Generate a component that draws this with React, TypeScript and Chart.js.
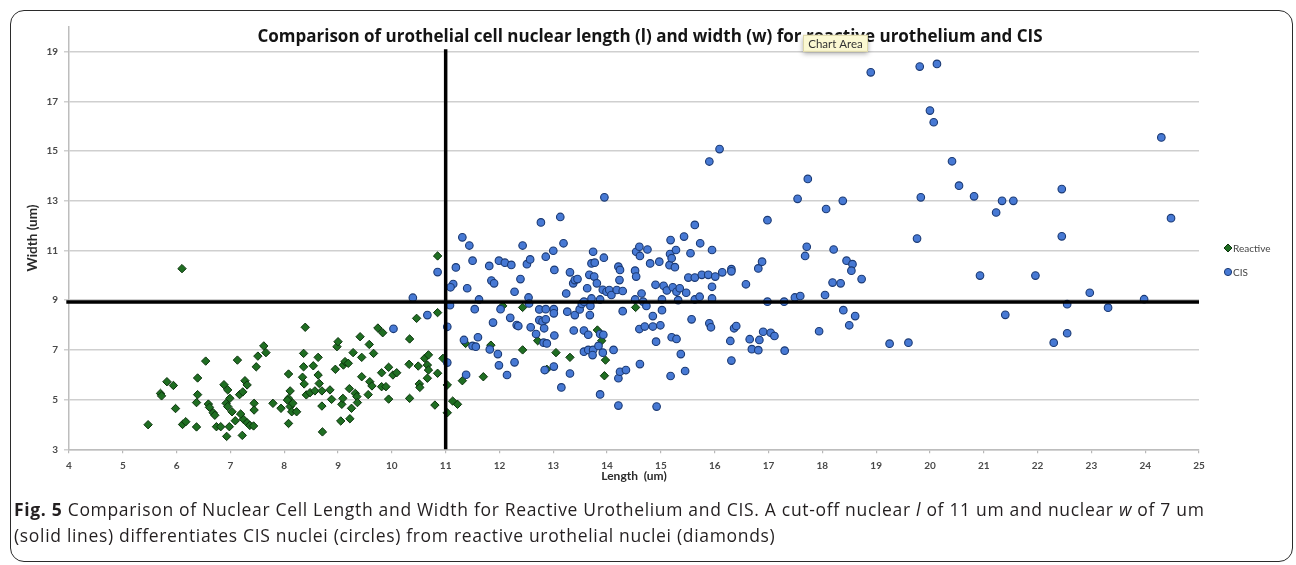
import React, { useEffect, useRef } from "react";
import { Chart, registerables } from "chart.js";

Chart.register(...registerables);

const chartTitle =
  "Comparison of urothelial cell nuclear length (l) and width (w) for reactive urothelium and CIS";
const xAxisTitle = "Length  (um)";
const yAxisTitle = "Width (um)";
const seriesNames = ["Reactive", "CIS"];
const xTickValues = [4, 5, 6, 7, 8, 9, 10, 11, 12, 13, 14, 15, 16, 17, 18, 19, 20, 21, 22, 23, 24, 25];
const yTickValues = [3, 5, 7, 9, 11, 13, 15, 17, 19];
const cutoffLength = 11;
const cutoffWidth = 8.93;

const reactiveX = [
  6.1, 5.47, 5.7, 5.72, 5.82, 5.94, 5.98, 6.11, 6.17, 6.37, 6.37, 6.39, 6.39, 6.54, 6.59, 6.61, 6.68, 6.71, 6.74, 6.82,
  6.88, 6.95, 6.92, 6.95, 6.98, 6.93, 6.99, 7.03, 7.09, 7.13, 7.17, 7.23, 7.24, 7.19, 7.27, 7.31, 7.22, 7.31, 7.36, 7.43,
  7.44, 7.44, 7.48, 7.51, 7.62, 7.66, 7.79, 7.94, 8.08, 8.08, 8.11, 8.06, 8.11, 8.14, 8.08, 8.16, 8.23, 8.36, 8.36, 8.39,
  8.34, 8.37, 8.41, 8.48, 8.54, 8.57, 8.63, 8.63, 8.65, 8.7, 8.71, 8.7, 8.85, 8.88, 8.95, 8.98, 9.0, 9.05, 9.07, 9.09,
  9.1, 9.13, 9.19, 9.21, 9.22, 9.25, 9.28, 9.32, 9.35, 9.36, 9.41, 9.44, 9.44, 9.56, 9.58, 9.59, 9.63, 9.66, 9.74, 9.83,
  9.81, 9.81, 9.89, 9.94, 9.94, 10.02, 10.09, 10.33, 10.32, 10.33, 10.46, 10.49, 10.51, 10.52, 10.61, 10.68, 10.66, 10.68, 10.66, 10.8,
  10.85, 10.85, 10.85, 10.95, 11.03, 11.03, 11.13, 11.22, 11.31, 11.37, 11.7, 11.84, 12.06, 12.43, 12.43, 12.71, 12.88, 13.05, 13.31, 13.82,
  13.9, 13.97, 13.95, 14.53,
];
const reactiveY = [
  10.27, 3.99, 5.25, 5.15, 5.72, 5.57, 4.64, 4.0, 4.11, 3.9, 4.88, 5.2, 5.87, 6.55, 4.82, 4.69, 4.47, 4.37, 3.91, 3.91,
  5.6, 5.39, 4.85, 4.72, 3.91, 3.52, 5.05, 4.51, 4.15, 6.59, 5.2, 5.31, 4.21, 4.42, 5.76, 5.59, 3.56, 4.07, 3.96, 3.94,
  4.85, 4.58, 6.32, 6.75, 7.16, 6.89, 4.85, 4.65, 6.03, 5.05, 5.35, 4.98, 4.72, 4.51, 4.04, 4.85, 4.51, 6.86, 6.32, 7.91,
  5.9, 5.63, 5.19, 5.28, 6.36, 5.35, 6.7, 5.99, 5.65, 4.74, 3.7, 5.35, 5.39, 5.01, 6.22, 7.13, 7.33, 4.14, 4.81, 5.05,
  6.39, 6.53, 6.46, 5.44, 4.23, 4.65, 6.89, 5.25, 5.12, 4.88, 7.53, 6.7, 5.92, 5.2, 7.22, 5.72, 5.55, 6.86, 7.88, 7.69,
  6.08, 5.52, 5.52, 6.3, 5.02, 5.99, 6.08, 7.44, 6.42, 5.05, 8.27, 6.35, 5.63, 5.49, 6.66, 6.8, 6.39, 6.19, 5.86, 4.78,
  10.78, 8.5, 6.06, 6.66, 5.59, 4.47, 4.94, 4.81, 5.76, 7.26, 5.92, 7.19, 8.77, 8.71, 7.0, 7.37, 6.22, 6.89, 6.7, 7.8,
  7.37, 6.59, 5.96, 8.71,
];

const cisX = [
  10.39, 10.66, 10.03, 10.85, 11.31, 11.44, 11.5, 11.19, 11.14, 11.09, 11.4, 11.62, 11.08, 11.54, 11.03, 11.03, 11.34, 11.5, 11.56, 11.6,
  11.38, 11.81, 11.85, 11.9, 11.88, 11.82, 11.97, 11.99, 12.1, 12.22, 11.99, 12.14, 12.02, 12.2, 12.28, 12.32, 12.35, 12.39, 12.43, 12.51,
  12.57, 12.54, 12.55, 12.28, 12.58, 12.68, 12.74, 12.74, 12.8, 12.86, 12.83, 12.86, 12.86, 12.82, 12.88, 12.84, 13.0, 13.02, 13.01, 13.01,
  13.02, 13.01, 13.15, 13.19, 13.24, 13.26, 13.31, 13.31, 13.37, 13.4, 13.45, 13.38, 13.4, 13.49, 13.53, 13.57, 13.57, 13.57, 13.63, 13.65,
  13.65, 13.67, 13.68, 13.69, 13.71, 13.71, 13.74, 13.76, 13.74, 13.73, 13.77, 13.81, 13.84, 13.87, 13.87, 13.87, 13.92, 13.92, 13.93, 13.94,
  13.99, 14.04, 14.08, 14.12, 14.18, 14.21, 14.24, 14.23, 14.29, 14.29, 14.21, 14.24, 14.35, 14.21, 14.52, 14.54, 14.54, 14.6, 14.61, 14.75,
  14.64, 14.52, 14.67, 14.73, 14.8, 14.6, 14.7, 14.85, 14.85, 14.61, 14.91, 14.92, 14.9, 14.97, 14.99, 15.02, 15.02, 15.05, 15.11, 15.16,
  15.17, 15.18, 15.2, 15.26, 15.28, 15.22, 15.29, 15.32, 15.35, 15.47, 15.2, 15.29, 15.37, 15.18, 15.45, 15.43, 15.55, 15.51, 15.63, 15.63,
  15.72, 15.57, 15.73, 15.76, 15.88, 15.95, 15.95, 15.95, 16.01, 15.9, 15.93, 16.14, 16.31, 16.31, 16.29, 16.31, 16.36, 16.4, 16.58, 16.65,
  16.69, 16.81, 16.83, 16.81, 16.88, 16.9, 16.98, 17.04, 17.11, 17.29, 17.3, 17.49, 17.59, 17.68, 17.71, 17.94, 18.05, 18.19, 18.21, 18.34,
  18.39, 18.45, 18.56, 18.54, 18.5, 18.61, 18.73, 12.77, 13.13, 13.95, 15.9, 16.09, 15.63, 16.98, 17.54, 17.73, 18.07, 18.38, 18.9, 19.81,
  20.13, 20.0, 20.07, 20.41, 20.54, 19.83, 20.82, 21.34, 21.55, 21.23, 22.45, 24.3, 24.48, 19.76, 22.45, 20.93, 21.96, 22.97, 22.55, 23.31,
  23.98, 21.4, 19.25, 19.6, 22.3, 22.55,
];
const cisY = [
  9.1, 8.4, 7.85, 10.13, 11.53, 11.2, 10.59, 10.32, 9.65, 9.52, 9.48, 9.03, 8.8, 8.64, 7.93, 6.49, 7.4, 7.16, 7.13, 7.51,
  6.0, 10.38, 9.79, 9.68, 8.1, 7.02, 6.83, 10.59, 10.51, 10.42, 6.38, 5.99, 8.64, 8.29, 9.34, 8.0, 7.96, 9.85, 11.2, 10.45,
  10.64, 9.11, 8.87, 6.5, 7.91, 7.64, 8.2, 8.63, 8.14, 8.23, 7.87, 8.64, 10.75, 7.29, 7.26, 6.19, 10.99, 10.22, 8.64, 8.47,
  7.58, 6.33, 5.49, 11.29, 9.27, 8.54, 6.05, 10.12, 9.68, 9.81, 9.85, 7.78, 8.4, 8.63, 8.85, 8.94, 7.78, 6.93, 9.48, 7.61,
  7.0, 10.02, 8.4, 8.77, 9.07, 10.48, 10.95, 9.95, 7.0, 6.79, 10.51, 9.68, 7.16, 9.03, 7.64, 5.21, 9.42, 6.89, 7.61, 10.71,
  9.34, 9.41, 9.21, 7.0, 9.41, 10.35, 10.22, 9.81, 9.37, 8.56, 5.86, 6.12, 6.19, 4.76, 10.19, 9.95, 10.95, 11.15, 10.78, 11.04,
  9.27, 9.03, 8.94, 8.77, 10.48, 7.84, 7.94, 8.36, 7.94, 6.43, 7.33, 4.72, 9.62, 10.55, 7.99, 8.6, 9.03, 9.58, 9.39, 10.41,
  10.86, 11.42, 10.69, 10.33, 11.02, 9.52, 9.34, 9.0, 9.48, 9.3, 7.51, 7.44, 6.83, 5.95, 6.15, 11.56, 10.89, 9.91, 9.91, 9.03,
  9.14, 8.23, 11.29, 10.02, 10.02, 11.02, 9.54, 9.07, 9.95, 8.07, 7.91, 10.12, 10.25, 10.16, 7.36, 6.57, 7.87, 7.96, 9.64, 7.43,
  7.03, 6.99, 7.4, 10.28, 10.55, 7.73, 8.94, 7.69, 7.56, 8.94, 6.97, 9.11, 9.17, 10.78, 11.15, 7.75, 9.21, 9.71, 11.04, 9.68,
  8.6, 10.59, 10.45, 10.19, 7.99, 8.36, 9.85, 12.13, 12.35, 13.14, 14.58, 15.08, 12.03, 12.22, 13.08, 13.88, 12.67, 13.0, 18.17, 18.4,
  18.51, 16.63, 16.16, 14.59, 13.61, 13.14, 13.18, 13.0, 13.0, 12.53, 13.47, 15.55, 12.3, 11.48, 11.57, 9.99, 9.99, 9.3, 8.84, 8.7,
  9.04, 8.41, 7.25, 7.29, 7.29, 7.67,
];

const greenFill = "#1f6e22";
const greenBorder = "#0b330c";
const blueFill = "#4779d4";
const blueBorder = "#1b3a74";

const textPlugin = {
  id: "textPlugin",
  afterDraw(chart: any) {
    const { ctx, chartArea } = chart;
    const ca = chartArea;
    ctx.save();
    // title
    ctx.fillStyle = "#141414";
    ctx.font = "bold 17px 'Open Sans'";
    ctx.textAlign = "center";
    ctx.textBaseline = "middle";
    ctx.fillText(chartTitle, 650, ca.top + 10);
    // tooltip box "Chart Area"
    const tx = 803, ty = ca.top + 8, tw = 65, th = 17;
    ctx.shadowColor = "rgba(0,0,0,0.35)";
    ctx.shadowBlur = 5;
    ctx.shadowOffsetY = 2;
    ctx.fillStyle = "#fbf8d2";
    ctx.fillRect(tx, ty, tw, th);
    ctx.shadowColor = "transparent";
    ctx.strokeStyle = "#dcd6a8";
    ctx.lineWidth = 1;
    ctx.strokeRect(tx + 0.5, ty + 0.5, tw - 1, th - 1);
    ctx.fillStyle = "#333";
    ctx.font = "11.5px Lato";
    ctx.textAlign = "center";
    ctx.fillText("Chart Area", tx + tw / 2, ty + th / 2 + 1);
    // axis titles
    ctx.fillStyle = "#2a2a2a";
    ctx.font = "bold 12px Lato";
    ctx.fillText(xAxisTitle, (ca.left + ca.right) / 2, ca.bottom + 27);
    ctx.save();
    ctx.font = "bold 13.5px Lato";
    ctx.translate(33, 238);
    ctx.rotate(-Math.PI / 2);
    ctx.fillText(yAxisTitle, 0, 0);
    ctx.restore();
    // legend
    const lx = ca.right + 29;
    const ly1 = 248, ly2 = 272;
    ctx.fillStyle = greenFill;
    ctx.strokeStyle = greenBorder;
    ctx.lineWidth = 1;
    ctx.beginPath();
    ctx.moveTo(lx, ly1 - 4);
    ctx.lineTo(lx + 4, ly1);
    ctx.lineTo(lx, ly1 + 4);
    ctx.lineTo(lx - 4, ly1);
    ctx.closePath();
    ctx.fill();
    ctx.stroke();
    ctx.fillStyle = blueFill;
    ctx.strokeStyle = blueBorder;
    ctx.beginPath();
    ctx.arc(lx, ly2, 3.6, 0, Math.PI * 2);
    ctx.fill();
    ctx.stroke();
    ctx.fillStyle = "#444";
    ctx.font = "10px Lato";
    ctx.textAlign = "left";
    ctx.fillText(seriesNames[0], lx + 5, ly1 + 1);
    ctx.fillText(seriesNames[1], lx + 5, ly2 + 1);
    ctx.restore();
  },
};

export default function App() {
  const canvasRef = useRef<HTMLCanvasElement | null>(null);

  useEffect(() => {
    const canvas = canvasRef.current;
    if (!canvas) return;
    const reactive = reactiveX.map((x, i) => ({ x, y: reactiveY[i] }));
    const cis = cisX.map((x, i) => ({ x, y: cisY[i] }));
    const chart = new Chart(canvas, {
      type: "scatter",
      data: {
        datasets: [
          {
            label: "cut-off length",
            data: [
              { x: cutoffLength, y: yTickValues[0] },
              { x: cutoffLength, y: 19.1 },
            ],
            showLine: true,
            borderColor: "#000",
            borderWidth: 3.5,
            pointRadius: 0,
          } as any,
          {
            label: "cut-off width",
            data: [
              { x: xTickValues[0] - 0.05, y: cutoffWidth },
              { x: xTickValues[xTickValues.length - 1], y: cutoffWidth },
            ],
            showLine: true,
            borderColor: "#000",
            borderWidth: 3.5,
            pointRadius: 0,
          } as any,
          {
            label: seriesNames[1],
            data: cis,
            pointStyle: "circle",
            pointRadius: 3.8,
            pointBorderWidth: 1.1,
            backgroundColor: blueFill,
            borderColor: blueBorder,
          },
          {
            label: seriesNames[0],
            data: reactive,
            pointStyle: "rectRot",
            pointRadius: 4.2,
            pointBorderWidth: 1,
            backgroundColor: greenFill,
            borderColor: greenBorder,
          },
        ],
      },
      options: {
        animation: false,
        responsive: false,
        maintainAspectRatio: false,
        clip: false as any,
        layout: { padding: { left: 30, right: 97, top: 26.85, bottom: 85.7 } },
        plugins: {
          legend: { display: false },
          tooltip: { enabled: false },
          title: { display: false },
        },
        scales: {
          x: {
            type: "linear",
            min: xTickValues[0],
            max: xTickValues[xTickValues.length - 1],
            afterFit: (s: any) => {
              s.height = 30;
            },
            afterBuildTicks: (s: any) => {
              s.ticks = xTickValues.map((v) => ({ value: v }));
            },
            ticks: {
              autoSkip: false,
              maxRotation: 0,
              padding: 6,
              color: "#4a4a4a",
              font: { family: "Lato", size: 10, weight: "bold" },
            },
            grid: {
              drawOnChartArea: false,
              drawTicks: true,
              tickLength: 4,
              color: "#b8b8b8",
              lineWidth: 1.2,
            },
            border: { color: "#bdbdbd", width: 1.5 },
          },
          y: {
            type: "linear",
            min: 3,
            max: 20,
            afterFit: (s: any) => {
              s.width = 39;
            },
            afterBuildTicks: (s: any) => {
              s.ticks = yTickValues.map((v) => ({ value: v }));
            },
            ticks: {
              autoSkip: false,
              padding: 6,
              color: "#4a4a4a",
              font: { family: "Lato", size: 10, weight: "bold" },
            },
            grid: {
              color: "#cfcfcf",
              lineWidth: 1.5,
              tickLength: 5,
            },
            border: { color: "#bdbdbd", width: 1.5 },
          },
        },
      },
      plugins: [textPlugin],
    });
    return () => chart.destroy();
  }, []);

  return (
    <div
      style={{
        position: "fixed",
        left: 0,
        top: 0,
        width: 1296,
        height: 565,
        background: "#fff",
        overflow: "hidden",
      }}
    >
      <div
        style={{
          position: "absolute",
          left: 10,
          top: 10,
          width: 1283,
          height: 552,
          boxSizing: "border-box",
          border: "1.5px solid #2b2b2b",
          borderRadius: 14,
        }}
      />
      <canvas
        ref={canvasRef}
        width={1296}
        height={565}
        style={{ position: "absolute", left: 0, top: 0, width: 1296, height: 565 }}
      />
      <div
        style={{
          position: "absolute",
          left: 14,
          top: 496,
          width: 1275,
          whiteSpace: "nowrap",
          fontFamily: "'Open Sans', sans-serif",
          fontSize: 17.5,
          letterSpacing: "0.68px",
          lineHeight: "26px",
          color: "#231f20",
        }}
      >
        <b>Fig. 5</b> Comparison of Nuclear Cell Length and Width for Reactive Urothelium and CIS. A cut-off nuclear{" "}
        <i>l</i> of 11 um and nuclear <i>w</i> of 7 um
        <br />
        (solid lines) differentiates CIS nuclei (circles) from reactive urothelial nuclei (diamonds)
      </div>
    </div>
  );
}
